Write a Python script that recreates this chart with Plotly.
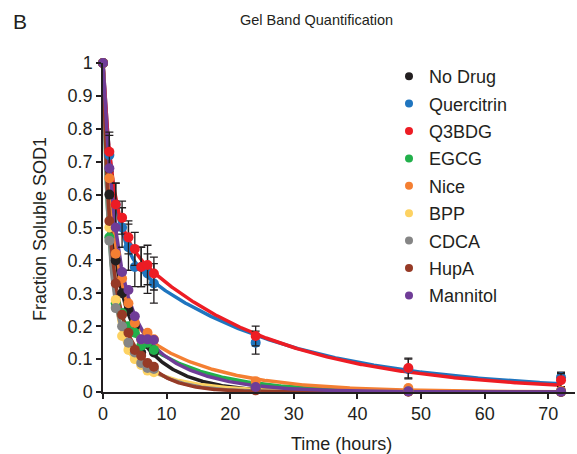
import numpy as np
import plotly.graph_objects as go

time_h = [0, 1, 2, 3, 4, 5, 6, 7, 8, 24, 48, 72]

series_names = ["No Drug", "Quercitrin", "Q3BDG", "EGCG", "Nice", "BPP", "CDCA", "HupA", "Mannitol"]
series_colors = ["#231f20", "#1f75bf", "#ed1c24", "#22b04b", "#f47f32", "#fdd262", "#858585", "#963a26", "#6f3c97"]

no_drug = [1, 0.60, 0.40, 0.30, 0.25, 0.20, 0.12, 0.145, 0.12, 0.010, 0.003, 0.002]
quercitrin = [1, 0.72, 0.57, 0.50, 0.44, 0.38, 0.38, 0.36, 0.33, 0.15, 0.070, 0.045]
q3bdg = [1, 0.73, 0.57, 0.53, 0.47, 0.435, 0.38, 0.386, 0.36, 0.17, 0.073, 0.036]
egcg = [1, 0.47, 0.27, 0.24, 0.20, 0.18, 0.14, 0.15, 0.128, 0.020, 0.004, 0.002]
nice = [1, 0.65, 0.42, 0.345, 0.27, 0.21, 0.16, 0.18, 0.16, 0.033, 0.012, 0.004]
bpp = [1, 0.50, 0.28, 0.17, 0.128, 0.10, 0.082, 0.065, 0.06, 0.010, 0.002, 0.0]
cdca = [1, 0.46, 0.255, 0.20, 0.15, 0.12, 0.088, 0.073, 0.07, 0.008, 0.002, 0.0]
hupa = [1, 0.52, 0.33, 0.235, 0.18, 0.128, 0.11, 0.088, 0.077, 0.005, 0.001, 0.0]
mannitol = [1, 0.68, 0.50, 0.365, 0.31, 0.23, 0.16, 0.16, 0.158, 0.015, 0.002, 0.001]

quercitrin_err = [0, 0.06, 0.065, 0.06, 0.07, 0.06, 0.06, 0.06, 0.06, 0.035, 0.03, 0.015]
q3bdg_err = [0, 0.06, 0.065, 0.05, 0.05, 0.05, 0.06, 0.06, 0.05, 0.03, 0.03, 0.02]

series_values = [no_drug, quercitrin, q3bdg, egcg, nice, bpp, cdca, hupa, mannitol]
series_errors = [None, quercitrin_err, q3bdg_err, None, None, None, None, None, None]

x_ticks = [0, 10, 20, 30, 40, 50, 60, 70]
y_ticks = [0, 0.1, 0.2, 0.3, 0.4, 0.5, 0.6, 0.7, 0.8, 0.9, 1]
y_ticktext = ["0", "0.1", "0.2", "0.3", "0.4", "0.5", "0.6", "0.7", "0.8", "0.9", "1"]


def fit_biexp(t, y):
    t = np.asarray(t, float)
    y = np.asarray(y, float)
    best = (np.inf, 1.0, 0.1, 0.1)
    for k1 in np.logspace(-2, 1, 90):
        e1 = np.exp(-k1 * t)
        for k2 in np.logspace(-3, 0, 90):
            e2 = np.exp(-k2 * t)
            d = e1 - e2
            den = np.dot(d, d)
            a = np.dot(y - e2, d) / den if den > 1e-12 else 0.0
            a = min(max(a, 0.0), 1.0)
            r = y - (a * e1 + (1 - a) * e2)
            s = np.dot(r, r)
            if s < best[0]:
                best = (s, a, k1, k2)
    _, a, k1, k2 = best
    return lambda tt: a * np.exp(-k1 * tt) + (1 - a) * np.exp(-k2 * tt)


fig = go.Figure()
t_fine = np.linspace(0, 72, 400)

# fitted curves
for name, color, vals in zip(series_names, series_colors, series_values):
    f = fit_biexp(time_h, vals)
    fig.add_trace(go.Scatter(x=t_fine, y=f(t_fine), mode="lines",
                             line=dict(color=color, width=3.5),
                             showlegend=False, hoverinfo="skip", cliponaxis=False))

# data points
for name, color, vals, err in zip(series_names, series_colors, series_values, series_errors):
    kw = {}
    if err is not None:
        kw["error_y"] = dict(type="data", array=err, visible=True, color="#231f20",
                             thickness=1.3, width=4)
    fig.add_trace(go.Scatter(x=time_h, y=vals, mode="markers", name=name,
                             marker=dict(color=color, size=10), showlegend=False,
                             legendgroup=name, cliponaxis=False, **kw))

# legend entries (small dots)
for name, color in zip(series_names, series_colors):
    fig.add_trace(go.Scatter(x=[None], y=[None], mode="markers", name=name,
                             marker=dict(color=color, size=8), legendgroup=name))

W, H = 577, 454
l, r, t, b = 103, 2, 63, 62
pw, ph = W - l - r, H - t - b


def px_to_paper(px, py):
    return (px - l) / pw, 1 - (py - t) / ph


lx, ly = px_to_paper(389, 58)

fig.update_layout(
    width=W, height=H,
    margin=dict(l=l, r=r, t=t, b=b),
    paper_bgcolor="white", plot_bgcolor="white",
    font=dict(family="Liberation Sans, Arial, sans-serif", size=18, color="#231f20"),
    showlegend=True,
    legend=dict(x=lx, y=ly, xanchor="left", yanchor="top",
                font=dict(size=18), bgcolor="rgba(0,0,0,0)",
                itemsizing="trace", tracegroupgap=1, traceorder="grouped",
                itemwidth=30, maxheight=440),
    xaxis=dict(range=[0, 74.2], tickvals=x_ticks,
               showline=True, linecolor="#231f20", linewidth=1.5,
               ticks="outside", ticklen=5, tickcolor="#231f20", tickwidth=1.5,
               showgrid=False, zeroline=False, tickfont=dict(size=18)),
    yaxis=dict(range=[0, 1], tickvals=y_ticks, ticktext=y_ticktext,
               showline=True, linecolor="#231f20", linewidth=1.5,
               ticks="outside", ticklen=5, tickcolor="#231f20", tickwidth=1.5,
               showgrid=False, zeroline=False, tickfont=dict(size=18)),
)

ann_specs = [
    ("Gel Band Quantification", 316, 20, 14.5, 0),
    ("B", 20, 22, 21, 0),
    ("Time (hours)", 341, 444, 18, 0),
    ("Fraction Soluble SOD1", 40, 229, 18, -90),
]
for text, px, py, size, angle in ann_specs:
    ax, ay = px_to_paper(px, py)
    fig.add_annotation(text=text, x=ax, y=ay, xref="paper", yref="paper",
                       xanchor="center", yanchor="middle", showarrow=False,
                       textangle=angle, font=dict(size=size))

fig.write_html("out.html")
